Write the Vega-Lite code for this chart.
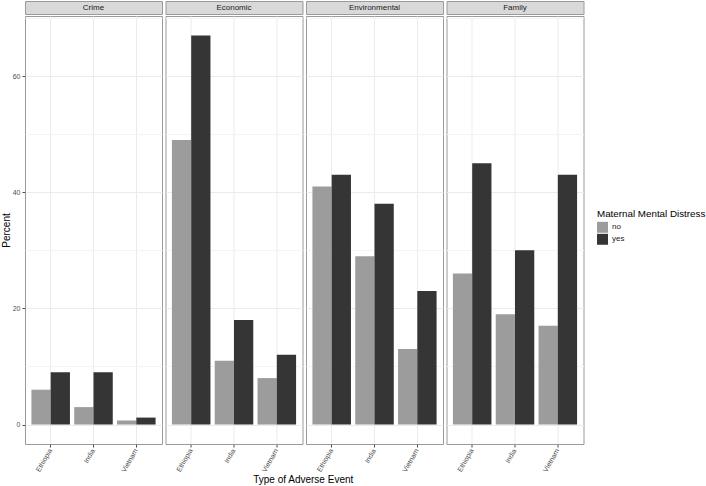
{
  "$schema": "https://vega.github.io/schema/vega-lite/v6.json",
  "padding": {"left": 0, "top": 0, "right": 0, "bottom": 0},
  "background": "white",
  "datasets": {
    "d": [
      {"type": "Crime", "country": "Ethiopia", "distress": "no", "percent": 6},
      {"type": "Crime", "country": "Ethiopia", "distress": "yes", "percent": 9},
      {"type": "Crime", "country": "India", "distress": "no", "percent": 3},
      {"type": "Crime", "country": "India", "distress": "yes", "percent": 9},
      {"type": "Crime", "country": "Vietnam", "distress": "no", "percent": 0.7},
      {"type": "Crime", "country": "Vietnam", "distress": "yes", "percent": 1.2},
      {"type": "Economic", "country": "Ethiopia", "distress": "no", "percent": 49},
      {"type": "Economic", "country": "Ethiopia", "distress": "yes", "percent": 67},
      {"type": "Economic", "country": "India", "distress": "no", "percent": 11},
      {"type": "Economic", "country": "India", "distress": "yes", "percent": 18},
      {"type": "Economic", "country": "Vietnam", "distress": "no", "percent": 8},
      {"type": "Economic", "country": "Vietnam", "distress": "yes", "percent": 12},
      {"type": "Environmental", "country": "Ethiopia", "distress": "no", "percent": 41},
      {"type": "Environmental", "country": "Ethiopia", "distress": "yes", "percent": 43},
      {"type": "Environmental", "country": "India", "distress": "no", "percent": 29},
      {"type": "Environmental", "country": "India", "distress": "yes", "percent": 38},
      {"type": "Environmental", "country": "Vietnam", "distress": "no", "percent": 13},
      {"type": "Environmental", "country": "Vietnam", "distress": "yes", "percent": 23},
      {"type": "Family", "country": "Ethiopia", "distress": "no", "percent": 26},
      {"type": "Family", "country": "Ethiopia", "distress": "yes", "percent": 45},
      {"type": "Family", "country": "India", "distress": "no", "percent": 19},
      {"type": "Family", "country": "India", "distress": "yes", "percent": 30},
      {"type": "Family", "country": "Vietnam", "distress": "no", "percent": 17},
      {"type": "Family", "country": "Vietnam", "distress": "yes", "percent": 43}
    ]
  },
  "data": {"name": "d"},
  "config": {
    "font": "Liberation Sans",
    "view": {"stroke": "#9A9A9A", "strokeWidth": 1},
    "axis": {
      "labelFont": "Liberation Sans",
      "titleFont": "Liberation Sans",
      "labelFontSize": 7,
      "labelColor": "#4D4D4D",
      "tickColor": "#4D4D4D",
      "tickSize": 3,
      "labelPadding": 2,
      "domain": false,
      "titleFontSize": 10,
      "titleFontWeight": "normal",
      "titleColor": "#000000"
    },
    "legend": {
      "titleFont": "Liberation Sans",
      "labelFont": "Liberation Sans"
    }
  },
  "title": {
    "text": "Type of Adverse Event",
    "orient": "bottom",
    "anchor": "middle",
    "fontSize": 10,
    "fontWeight": "normal",
    "color": "#000000",
    "offset": 2,
    "dx": -50
  },
  "spacing": 1.5,
  "resolve": {"scale": {"color": "shared"}, "legend": {"color": "shared"}},
  "hconcat": [
    {
      "spacing": 0,
      "resolve": {"scale": {"color": "shared"}, "legend": {"color": "shared"}},
      "vconcat": [
        {
          "width": 137, "height": 13,
          "view": {"fill": "#D9D9D9", "stroke": "#9A9A9A"},
          "transform": [{"filter": "datum.type === 'Crime'"}, {"aggregate": [{"op": "count", "as": "n"}], "groupby": ["type"]}],
          "mark": {"type": "text", "fontSize": 8, "color": "#1A1A1A", "baseline": "middle"},
          "encoding": {"text": {"field": "type"}}
        },
        {
          "width": 137, "height": 428,
          "transform": [{"filter": "datum.type === 'Crime'"}],
          "mark": {"type": "bar"},
          "encoding": {
            "x": {"field": "country", "type": "nominal", "scale": {"paddingInner": 0.1, "paddingOuter": 0.15},
                  "axis": {"title": null, "labelAngle": -60, "bandPosition": 0.5, "grid": true, "gridColor": "#EBEBEB"}},
            "xOffset": {"field": "distress", "type": "nominal"},
            "y": {"field": "percent", "type": "quantitative", "scale": {"domain": [-3.35, 70.35], "nice": false},
                  "axis": {"title": "Percent", "titleX": -14, "values": [0, 10, 20, 30, 40, 50, 60, 70], "labelExpr": "datum.value % 20 === 0 ? datum.label : ''",
                           "gridColor": {"condition": {"test": "datum.value % 20 === 0", "value": "#EBEBEB"}, "value": "#F4F4F4"},
                           "tickOpacity": {"condition": {"test": "datum.value % 20 === 0", "value": 1}, "value": 0}}},
            "color": {"field": "distress", "type": "nominal", "scale": {"domain": ["no", "yes"], "range": ["#9C9C9C", "#353535"]},
                      "legend": {"title": "Maternal Mental Distress", "orient": "none", "legendX": 572, "legendY": 208,
                                 "titleFontSize": 9.8, "titleFontWeight": "normal", "titleColor": "#000000", "titlePadding": 3, "titleLimit": 0,
                                 "labelFontSize": 8, "labelColor": "#1A1A1A", "symbolType": "square", "symbolSize": 120,
                                 "symbolStrokeWidth": 0, "rowPadding": 1}}
          }
        }
      ]
    },
    {
      "spacing": 0,
      "resolve": {"scale": {"color": "shared"}, "legend": {"color": "shared"}},
      "vconcat": [
        {
          "width": 137, "height": 13,
          "view": {"fill": "#D9D9D9", "stroke": "#9A9A9A"},
          "transform": [{"filter": "datum.type === 'Economic'"}, {"aggregate": [{"op": "count", "as": "n"}], "groupby": ["type"]}],
          "mark": {"type": "text", "fontSize": 8, "color": "#1A1A1A", "baseline": "middle"},
          "encoding": {"text": {"field": "type"}}
        },
        {
          "width": 137, "height": 428,
          "transform": [{"filter": "datum.type === 'Economic'"}],
          "mark": {"type": "bar"},
          "encoding": {
            "x": {"field": "country", "type": "nominal", "scale": {"paddingInner": 0.1, "paddingOuter": 0.15},
                  "axis": {"title": null, "labelAngle": -60, "bandPosition": 0.5, "grid": true, "gridColor": "#EBEBEB"}},
            "xOffset": {"field": "distress", "type": "nominal"},
            "y": {"field": "percent", "type": "quantitative", "scale": {"domain": [-3.35, 70.35], "nice": false},
                  "axis": {"title": null, "labels": false, "ticks": false, "values": [0, 10, 20, 30, 40, 50, 60, 70],
                           "gridColor": {"condition": {"test": "datum.value % 20 === 0", "value": "#EBEBEB"}, "value": "#F4F4F4"}}},
            "color": {"field": "distress", "type": "nominal", "scale": {"domain": ["no", "yes"], "range": ["#9C9C9C", "#353535"]},
                      "legend": {"title": "Maternal Mental Distress", "orient": "none", "legendX": 572, "legendY": 208,
                                 "titleFontSize": 9.8, "titleFontWeight": "normal", "titleColor": "#000000", "titlePadding": 3, "titleLimit": 0,
                                 "labelFontSize": 8, "labelColor": "#1A1A1A", "symbolType": "square", "symbolSize": 120,
                                 "symbolStrokeWidth": 0, "rowPadding": 1}}
          }
        }
      ]
    },
    {
      "spacing": 0,
      "resolve": {"scale": {"color": "shared"}, "legend": {"color": "shared"}},
      "vconcat": [
        {
          "width": 137, "height": 13,
          "view": {"fill": "#D9D9D9", "stroke": "#9A9A9A"},
          "transform": [{"filter": "datum.type === 'Environmental'"}, {"aggregate": [{"op": "count", "as": "n"}], "groupby": ["type"]}],
          "mark": {"type": "text", "fontSize": 8, "color": "#1A1A1A", "baseline": "middle"},
          "encoding": {"text": {"field": "type"}}
        },
        {
          "width": 137, "height": 428,
          "transform": [{"filter": "datum.type === 'Environmental'"}],
          "mark": {"type": "bar"},
          "encoding": {
            "x": {"field": "country", "type": "nominal", "scale": {"paddingInner": 0.1, "paddingOuter": 0.15},
                  "axis": {"title": null, "labelAngle": -60, "bandPosition": 0.5, "grid": true, "gridColor": "#EBEBEB"}},
            "xOffset": {"field": "distress", "type": "nominal"},
            "y": {"field": "percent", "type": "quantitative", "scale": {"domain": [-3.35, 70.35], "nice": false},
                  "axis": {"title": null, "labels": false, "ticks": false, "values": [0, 10, 20, 30, 40, 50, 60, 70],
                           "gridColor": {"condition": {"test": "datum.value % 20 === 0", "value": "#EBEBEB"}, "value": "#F4F4F4"}}},
            "color": {"field": "distress", "type": "nominal", "scale": {"domain": ["no", "yes"], "range": ["#9C9C9C", "#353535"]},
                      "legend": {"title": "Maternal Mental Distress", "orient": "none", "legendX": 572, "legendY": 208,
                                 "titleFontSize": 9.8, "titleFontWeight": "normal", "titleColor": "#000000", "titlePadding": 3, "titleLimit": 0,
                                 "labelFontSize": 8, "labelColor": "#1A1A1A", "symbolType": "square", "symbolSize": 120,
                                 "symbolStrokeWidth": 0, "rowPadding": 1}}
          }
        }
      ]
    },
    {
      "spacing": 0,
      "resolve": {"scale": {"color": "shared"}, "legend": {"color": "shared"}},
      "vconcat": [
        {
          "width": 137, "height": 13,
          "view": {"fill": "#D9D9D9", "stroke": "#9A9A9A"},
          "transform": [{"filter": "datum.type === 'Family'"}, {"aggregate": [{"op": "count", "as": "n"}], "groupby": ["type"]}],
          "mark": {"type": "text", "fontSize": 8, "color": "#1A1A1A", "baseline": "middle"},
          "encoding": {"text": {"field": "type"}}
        },
        {
          "width": 137, "height": 428,
          "transform": [{"filter": "datum.type === 'Family'"}],
          "mark": {"type": "bar"},
          "encoding": {
            "x": {"field": "country", "type": "nominal", "scale": {"paddingInner": 0.1, "paddingOuter": 0.15},
                  "axis": {"title": null, "labelAngle": -60, "bandPosition": 0.5, "grid": true, "gridColor": "#EBEBEB"}},
            "xOffset": {"field": "distress", "type": "nominal"},
            "y": {"field": "percent", "type": "quantitative", "scale": {"domain": [-3.35, 70.35], "nice": false},
                  "axis": {"title": null, "labels": false, "ticks": false, "values": [0, 10, 20, 30, 40, 50, 60, 70],
                           "gridColor": {"condition": {"test": "datum.value % 20 === 0", "value": "#EBEBEB"}, "value": "#F4F4F4"}}},
            "color": {"field": "distress", "type": "nominal", "scale": {"domain": ["no", "yes"], "range": ["#9C9C9C", "#353535"]},
                      "legend": {"title": "Maternal Mental Distress", "orient": "none", "legendX": 572, "legendY": 208,
                                 "titleFontSize": 9.8, "titleFontWeight": "normal", "titleColor": "#000000", "titlePadding": 3, "titleLimit": 0,
                                 "labelFontSize": 8, "labelColor": "#1A1A1A", "symbolType": "square", "symbolSize": 120,
                                 "symbolStrokeWidth": 0, "rowPadding": 1}}
          }
        }
      ]
    }
  ]
}
